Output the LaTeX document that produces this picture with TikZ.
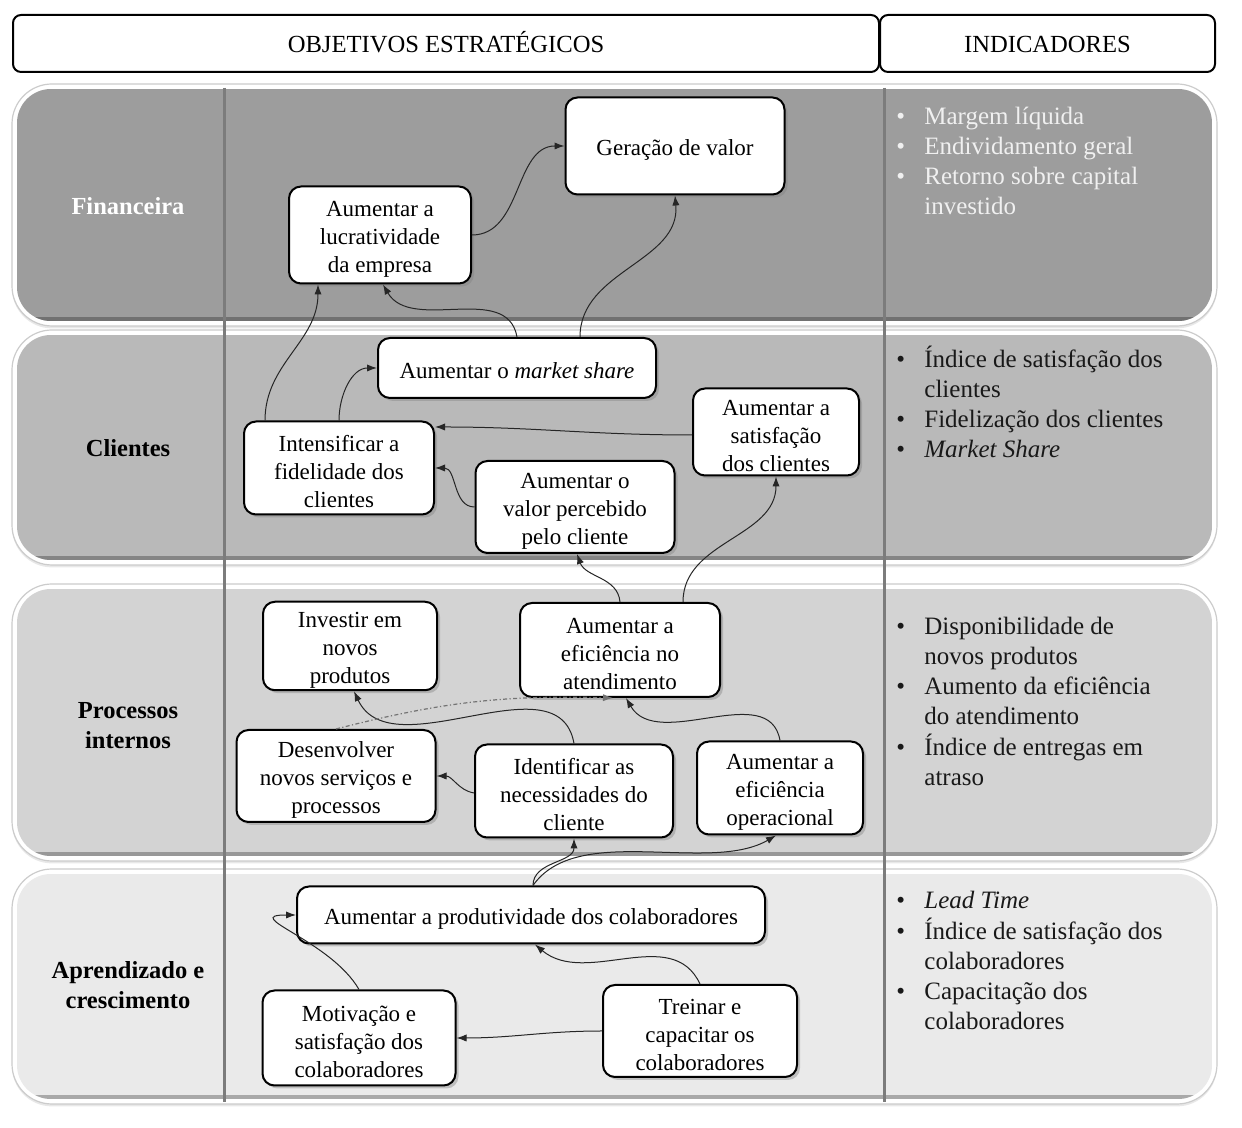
\documentclass[tikz,border=0pt]{standalone}
\usepackage{fontspec}
\setmainfont{Liberation Serif}
\usetikzlibrary{arrows.meta,shadows}
\definecolor{bandA}{HTML}{9D9D9D}
\definecolor{bandB}{HTML}{B9B9B9}
\definecolor{bandC}{HTML}{D3D3D3}
\definecolor{bandD}{HTML}{EAEAEA}
\definecolor{vlinecol}{HTML}{7C7C7C}
\newcommand{\mybandbox}[3]{%
  \path[fill=white, draw=black!20, line width=0.6pt, rounded corners=20pt,
        drop shadow={opacity=0.18, shadow xshift=0pt, shadow yshift=-1.2pt}]
        (12,#2-5) rectangle (1217,#1+5);
  \begin{scope}
    \clip[rounded corners=17pt] (17,#2) rectangle (1212,#1);
    \fill[#3] (17,#2) rectangle (1212,#1);
    \fill[#3!72!black] (17,#2) rectangle (1212,#2+4);
  \end{scope}}
\newcommand{\fstrut}{\rule{0pt}{11.8pt}}
\tikzset{
  hdr/.style={draw=black, line width=1pt, fill=white, rounded corners=4pt,
    inner sep=0pt, text height=8.6pt, text depth=0pt, font=\fontsize{12.3}{14}\selectfont},
  lbl/.style={align=center, inner sep=0pt, font=\bfseries\fontsize{12.25}{15}\selectfont},
  ind/.style={anchor=base west, inner sep=0pt, font=\fontsize{12.5}{15}\selectfont},
  objbox/.style={draw=black, line width=1pt, fill=white, rounded corners=6pt,
    align=center, inner sep=1pt, font=\fontsize{11.5}{14}\selectfont,
    drop shadow={shadow xshift=1.5pt, shadow yshift=-1.5pt, opacity=0.4}},
  arr/.style={-{Latex[length=5pt,width=3.6pt]}, line width=0.5pt, draw=black!85},
  dotarr/.style={-{Latex[length=5pt,width=3.6pt]}, line width=0.6pt, draw=black!55,
    dash pattern=on 2pt off 1.2pt on 0.6pt off 1.2pt},
}
\begin{document}
\begin{tikzpicture}[x=0.5pt, y=0.5pt]
\useasboundingbox (0,0) rectangle (1242,1128);
\fill[white] (0,0) rectangle (1242,1128);

% bands
\mybandbox{1039}{807}{bandA}
\mybandbox{793}{568}{bandB}
\mybandbox{539}{272}{bandC}
\mybandbox{254}{29}{bandD}

% vertical separators
\draw[vlinecol, line width=1.5pt] (224,1040) -- (224,26);
\draw[vlinecol, line width=1.5pt] (884,1040) -- (884,26);

% header
\node[hdr, minimum width=433pt, minimum height=28.5pt] (hobj) at (446,1084.5) {OBJETIVOS ESTRATÉGICOS};
\node[hdr, minimum width=167.5pt, minimum height=28.5pt] (hind) at (1047.5,1084.5) {INDICADORES};

% perspective labels
\node[lbl, text=white] (lfin) at (128,922) {Financeira};
\node[lbl] (lcli) at (128,680) {Clientes};
\node[lbl] (lpro) at (128,402) {Processos\\internos};
\node[lbl] (lapr) at (128,143) {Aprendizado e\\crescimento};

% indicators
\node[ind, text=white!94!black] (ifin) at (896,1003) {\begin{tabular}[t]{@{}p{14pt}@{}l@{}}•&Margem líquida\\•&Endividamento geral\\•&Retorno sobre capital\\&investido\end{tabular}};
\node[ind, text=black!90] (icli) at (896,760) {\begin{tabular}[t]{@{}p{14pt}@{}l@{}}•&Índice de satisfação dos\\&clientes\\•&Fidelização dos clientes\\•&\textit{Market Share}\end{tabular}};
\node[ind, text=black!90] (ipro) at (896,493) {\begin{tabular}[t]{@{}p{14pt}@{}l@{}}•&Disponibilidade de\\&novos produtos\\•&Aumento da eficiência\\&do atendimento\\•&Índice de entregas em\\&atraso\end{tabular}};
\node[ind, text=black!90] (iapr) at (896,219) {\begin{tabular}[t]{@{}p{14pt}@{}l@{}}•&\textit{Lead Time}\\•&Índice de satisfação dos\\&colaboradores\\•&Capacitação dos\\&colaboradores\end{tabular}};

% objective boxes
\node[objbox, minimum width=109.5pt, minimum height=48.5pt] (gv) at (675,982) {\fstrut Geração de valor};
\node[objbox, minimum width=91pt, minimum height=48.5pt] (lucr) at (380,893) {\fstrut Aumentar a\\lucratividade\\da empresa};
\node[objbox, minimum width=139pt, minimum height=30pt] (ms) at (517,760) {\rule{0pt}{10.5pt}Aumentar o \textit{market share}};
\node[objbox, minimum width=95pt, minimum height=46.5pt] (fid) at (339,660) {\fstrut Intensificar a\\fidelidade dos\\clientes};
\node[objbox, minimum width=83pt, minimum height=43.5pt] (sat) at (776,696) {\fstrut Aumentar a\\satisfação\\dos clientes};
\node[objbox, minimum width=99.5pt, minimum height=46pt] (val) at (575,621) {\fstrut Aumentar o\\valor percebido\\pelo cliente};
\node[objbox, minimum width=87pt, minimum height=44pt] (inv) at (350,482) {\fstrut Investir em\\novos\\produtos};
\node[objbox, minimum width=100pt, minimum height=47pt] (efa) at (620,478) {\fstrut Aumentar a\\eficiência no\\atendimento};
\node[objbox, minimum width=99.5pt, minimum height=46pt] (des) at (336,352) {\fstrut Desenvolver\\novos serviços e\\processos};
\node[objbox, minimum width=99pt, minimum height=46.5pt] (ide) at (574,337) {\fstrut Identificar as\\necessidades do\\cliente};
\node[objbox, minimum width=83pt, minimum height=46.5pt] (efo) at (780,340) {\fstrut Aumentar a\\eficiência\\operacional};
\node[objbox, minimum width=234pt, minimum height=28.5pt] (prod) at (531,213) {\fstrut Aumentar a produtividade dos colaboradores};
\node[objbox, minimum width=96.5pt, minimum height=47.5pt] (mot) at (359,90) {\fstrut Motivação e\\satisfação dos\\colaboradores};
\node[objbox, minimum width=97pt, minimum height=46pt] (tre) at (700,97) {\fstrut Treinar e\\capacitar os\\colaboradores};

% connectors
\draw[arr] (lucr.east) to[out=0,in=180] (gv.west);
\draw[arr] (ms.north) to[out=100,in=-60] ([xshift=1.5pt]lucr.south);
\draw[arr] ([xshift=31.5pt]ms.north) to[out=90,in=-85] (gv.south);
\draw[arr] ([xshift=-37pt]fid.north) to[out=90,in=-90] ([xshift=-31pt]lucr.south);
\draw[arr] (fid.north) to[out=90,in=180] (ms.west);
\draw[arr] ([yshift=-1.5pt]sat.west) to[out=180,in=0] ([yshift=20.5pt]fid.east);
\draw[arr] (val.west) to[out=180,in=0] (fid.east);
\draw[arr] (efa.north) to[out=95,in=-70] ([xshift=1pt]val.south);
\draw[arr] ([xshift=31.5pt]efa.north) to[out=90,in=-90] (sat.south);
\draw[arr] (ide.north) to[out=100,in=-65] ([xshift=2pt]inv.south);
\draw[dotarr] (des.north) to[bend left=8] ([xshift=-3.5pt]efa.south);
\draw[arr] (efo.north) to[out=100,in=-60] ([xshift=3pt]efa.south);
\draw[arr] ([yshift=-1pt]ide.west) to[out=170,in=0] (des.east);
\draw[arr] ([xshift=1pt]prod.north) to[out=90,in=-90] (ide.south);
\draw[arr] ([xshift=1pt]prod.north) to[out=55,in=-150,looseness=0.8] ([xshift=-2pt]efo.south);
\draw[arr] (mot.north) to[out=120,in=180,looseness=1.5] (prod.west);
\draw[arr] (tre.north) to[out=115,in=-40] ([xshift=2pt]prod.south);
\draw[arr] (tre.west) to[out=180,in=0] (mot.east);
\end{tikzpicture}
\end{document}
